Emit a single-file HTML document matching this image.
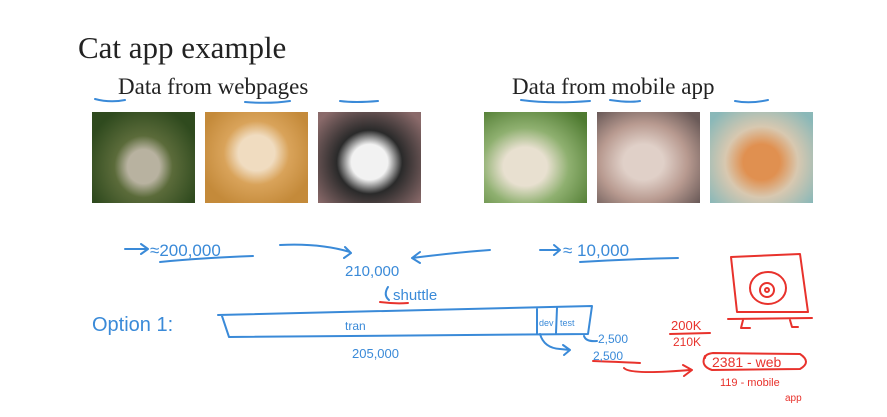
<!DOCTYPE html>
<html><head><style>
body{margin:0;background:#fff;width:887px;height:417px;overflow:hidden;position:relative;font-family:"Liberation Serif",serif}
.t{position:absolute;color:#222}
.p{position:absolute;top:112px;width:103px;height:91px}
svg{position:absolute;left:0;top:0}
</style></head><body>
<div class="t" style="left:78px;top:30px;font-size:31px">Cat app example</div>
<div class="t" style="left:118px;top:74px;font-size:23px">Data from webpages</div>
<div class="t" style="left:512px;top:74px;font-size:23px">Data from mobile app</div>
<div class="p" style="left:92px;background:radial-gradient(ellipse at 50% 60%,#b8b2a0 0 22%,#5b6b3a 40%,#2f4a1e 80%)"></div>
<div class="p" style="left:205px;background:radial-gradient(ellipse at 50% 45%,#f0dcc0 0 25%,#d9a35a 45%,#c48a3a 80%)"></div>
<div class="p" style="left:318px;background:radial-gradient(ellipse at 50% 55%,#f2f2f2 0 25%,#2a2a2a 45%,#8a6a6a 90%)"></div>
<div class="p" style="left:484px;background:radial-gradient(ellipse at 40% 60%,#e8e0d0 0 25%,#8fb070 50%,#4e7a30 90%)"></div>
<div class="p" style="left:597px;background:radial-gradient(ellipse at 45% 55%,#e0d0c8 0 25%,#b89a90 55%,#6a5a58 90%)"></div>
<div class="p" style="left:710px;background:radial-gradient(ellipse at 50% 55%,#e09050 0 25%,#d8c8b0 50%,#8ab8b8 90%)"></div>
<svg width="887" height="417" fill="none" stroke-linecap="round" stroke-linejoin="round">
<g stroke="#3a8ad8" stroke-width="2">
<path d="M95 99 Q110 103 125 100 M245 102 Q270 104 290 101 M340 101 Q355 103 378 101"/>
<path d="M521 100 Q550 104 590 101 M610 100 Q630 103 640 101 M735 101 Q750 104 768 100"/>
<path d="M125 249 L148 249 M141 244 L148 249 L141 254"/>
<path d="M160 262 Q200 258 253 256"/>
<path d="M280 245 Q320 243 350 252 M345 247 L351 253 L344 258"/>
<path d="M490 250 Q460 252 412 258 M420 252 L412 258 L420 263"/>
<path d="M540 250 L560 250 M554 245 L560 250 L554 255"/>
<path d="M580 262 Q630 259 678 258"/>
<path d="M388 287 Q383 295 389 300"/>
<path d="M218 315 L592 306 L588 334 L229 337 L222 316"/>
<path d="M537 309 L537 334 M557 308 L556 333"/>
<path d="M540 334 Q544 348 560 349 L570 350 M563 345 L570 350 L564 355"/>
<path d="M584 336 Q586 342 597 341"/>
</g>
<g stroke="#e8322c" stroke-width="2">
<path d="M380 302 Q395 304 408 303"/>
<path d="M593 361 Q620 362 640 363 M624 368 Q630 375 690 370 M683 365 L692 370 L684 376"/>
<path d="M670 334 L710 333"/>
<path d="M731 257 L800 254 L808 312 L737 312 Z M728 319 L812 318 M743 320 L741 328 L750 328 M790 320 L792 327 L798 327"/>
<ellipse cx="768" cy="288" rx="18" ry="16"/><ellipse cx="767" cy="290" rx="7" ry="7"/><circle cx="767" cy="290" r="2"/>
<path d="M705 356 Q700 366 712 370 L800 369 Q812 362 800 354 L713 353 Q705 354 705 358"/>
</g>
<g font-family="'Liberation Sans',sans-serif" fill="#3a8ad8" stroke="none">
<text x="150" y="256" font-size="17">≈200,000</text>
<text x="563" y="256" font-size="17">≈ 10,000</text>
<text x="345" y="276" font-size="15">210,000</text>
<text x="393" y="300" font-size="15">shuttle</text>
<text x="92" y="331" font-size="20">Option 1:</text>
<text x="345" y="330" font-size="12">tran</text>
<text x="539" y="326" font-size="9">dev</text>
<text x="560" y="326" font-size="9">test</text>
<text x="598" y="343" font-size="12">2,500</text>
<text x="593" y="360" font-size="12">2,500</text>
<text x="352" y="358" font-size="13">205,000</text>
</g>
<g font-family="'Liberation Sans',sans-serif" fill="#e8322c" stroke="none">
<text x="671" y="330" font-size="13">200K</text>
<text x="673" y="346" font-size="12">210K</text>
<text x="712" y="367" font-size="14">2381 - web</text>
<text x="720" y="386" font-size="11">119 - mobile</text>
<text x="785" y="401" font-size="10">app</text>
</g>
</svg>
</body></html>
